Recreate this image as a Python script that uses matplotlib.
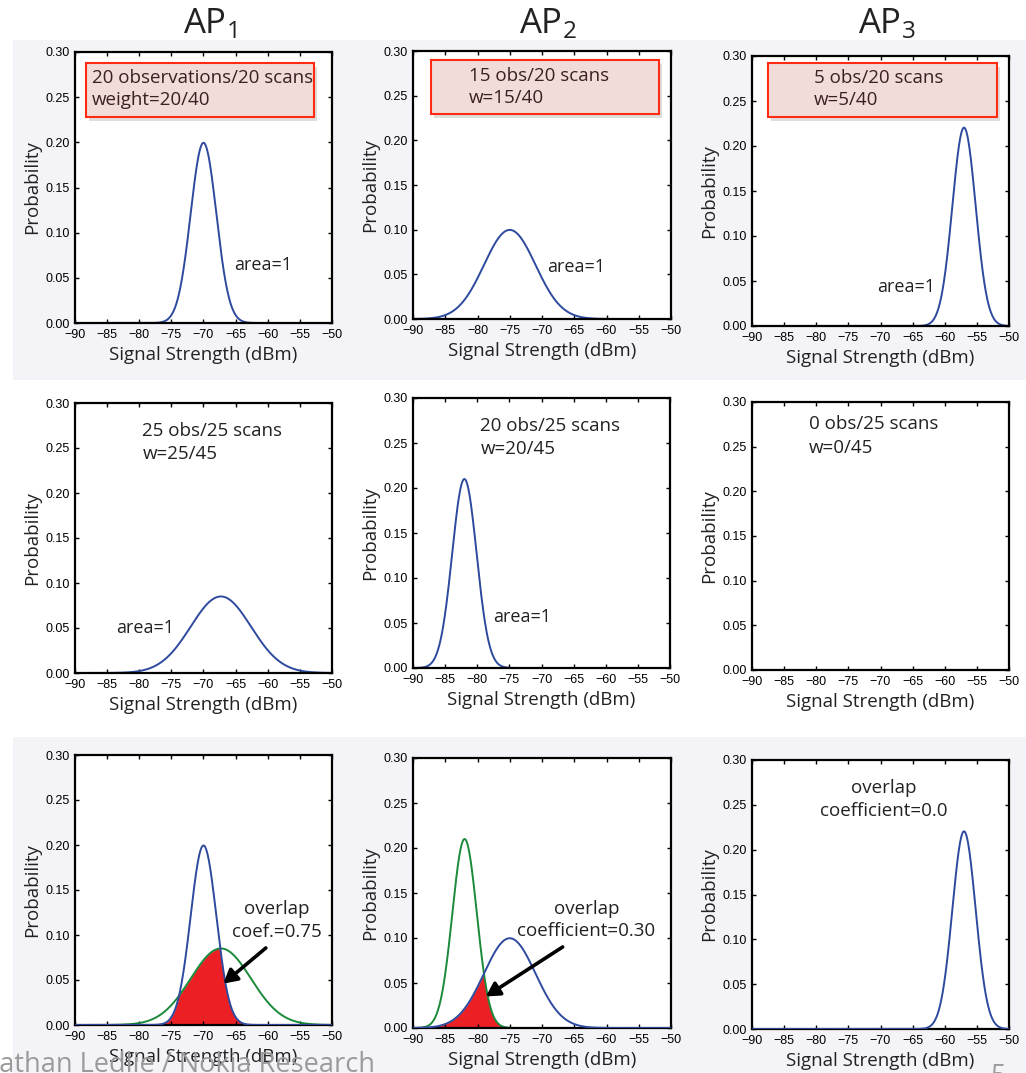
import matplotlib
matplotlib.use('Agg')
import matplotlib.pyplot as plt
from matplotlib.patches import Rectangle
import numpy as np

plt.rcParams['font.family'] = ['Open Sans', 'DejaVu Sans']
plt.rcParams['mathtext.fontset'] = 'custom'
plt.rcParams['mathtext.rm'] = 'Open Sans'
plt.rcParams['mathtext.it'] = 'Open Sans'

# Gaussian parameters (mean dBm, std dBm)
ap_names = ['1', '2', '3']
scan1_means = [-70.0, -75.0, -57.0]
scan1_stds = [2.0, 4.0, 1.81]
scan2_means = [-67.3, -82.0, None]
scan2_stds = [4.69, 1.9, None]

scan1_text = ['20 observations/20 scans\nweight=20/40', '15 obs/20 scans\nw=15/40', '5 obs/20 scans\nw=5/40']
scan2_text = ['25 obs/25 scans\nw=25/45', '20 obs/25 scans\nw=20/45', '0 obs/25 scans\nw=0/45']
overlap_text = ['overlap\ncoef.=0.75', 'overlap\ncoefficient=0.30', 'overlap\ncoefficient=0.0']

x_ticks = [-90, -85, -80, -75, -70, -65, -60, -55, -50]
y_ticks = [0.0, 0.05, 0.10, 0.15, 0.20, 0.25, 0.30]

BLUE = '#2E4A9E'
GREEN = '#1B8A3A'
RED = '#EC2024'
TXT = '#222222'
W, H = 1026, 1073

fig = plt.figure(figsize=(W / 100, H / 100), dpi=100)
fig.patch.set_facecolor('white')


def fig_rect(l, t, r, b):
    return [l / W, 1 - b / H, (r - l) / W, (b - t) / H]


def fx(px):
    return px / W


def fy(py):
    return 1 - py / H


# grey slide bands behind the top and bottom rows
for (l, t, r, b) in [(13, 40, 1026, 380), (13, 737, 1026, 1073)]:
    fig.add_artist(Rectangle((fx(l), fy(b)), (r - l) / W, (b - t) / H,
                             transform=fig.transFigure, facecolor='#F4F4F8',
                             edgecolor='none', zorder=-10))

# axes boxes in pixels (left, top, right, bottom)
boxes = [
    [(75, 52, 332, 323), (413, 51, 671, 319), (752, 56, 1009, 326)],
    [(75, 403, 332, 673), (413, 398, 670, 668), (752, 402, 1009, 670)],
    [(75, 755, 332, 1025), (413, 758, 671, 1028), (752, 760, 1009, 1029)],
]

xs = np.linspace(-90, -50, 600)


def gauss(m, s):
    return np.exp(-0.5 * ((xs - m) / s) ** 2) / (s * np.sqrt(2 * np.pi))


def style(ax):
    ax.set_xlim(-90, -50)
    ax.set_ylim(0, 0.30)
    ax.set_xticks(x_ticks)
    ax.set_yticks(y_ticks)
    ax.set_xticklabels([f'\u2212{abs(v)}' for v in x_ticks], family='Liberation Sans', fontsize=9)
    ax.set_yticklabels([f'{v:.2f}' for v in y_ticks], family='Liberation Sans', fontsize=9)
    ax.tick_params(direction='in', top=True, right=True, length=3, width=1, pad=4)
    for sp in ax.spines.values():
        sp.set_linewidth(1.6)
    ax.set_xlabel('Signal Strength (dBm)', fontsize=13.5, color=TXT, labelpad=4)
    ax.set_ylabel('Probability', fontsize=13.5, color=TXT, labelpad=3)


axes = [[fig.add_axes(fig_rect(*boxes[r][c])) for c in range(3)] for r in range(3)]
for row in axes:
    for ax in row:
        style(ax)

# AP titles
for c, name in enumerate(ap_names):
    l, t, r, b = boxes[0][c]
    fig.text(fx((l + r) / 2 + 6), fy(24), r'$\mathrm{AP}_{' + name + '}$',
             ha='center', va='center', fontsize=25, color=TXT)

# row 1: first scan
area_pos1 = [(-65.3, 0.064), (-69.2, 0.058), (-70.5, 0.043)]
for c in range(3):
    ax = axes[0][c]
    ax.plot(xs, gauss(scan1_means[c], scan1_stds[c]), color=BLUE, lw=1.4)
    ax.text(*area_pos1[c], 'area=1', fontsize=13, va='center', ha='left', color=TXT)

# red boxes with shadow over the top row
rbox = [(86, 63, 314, 117), (431, 60, 659, 114), (768, 63, 997, 117)]
rtext = [(92, 89), (469, 87), (814, 89)]
for (l, t, r, b), (tx, ty), s in zip(rbox, rtext, scan1_text):
    fig.add_artist(Rectangle((fx(l + 3), fy(b + 4)), (r - l) / W, (b - t) / H,
                             transform=fig.transFigure, facecolor='#00000022',
                             edgecolor='none', zorder=4))
    fig.add_artist(Rectangle((fx(l), fy(b)), (r - l) / W, (b - t) / H,
                             transform=fig.transFigure, facecolor='#F2DCD9',
                             edgecolor='#FF2A12', lw=1.5, zorder=5))
    fig.text(fx(tx), fy(ty), s, ha='left', va='center', fontsize=13.5,
             color='#3A2020', linespacing=1.35, zorder=6)

# row 2: second scan
text_pos2 = [(-79.5, 0.256), (-79.5, 0.256), (-81.2, 0.262)]
area_pos2 = [(-83.6, 0.05), (-77.6, 0.057), None]
for c in range(3):
    ax = axes[1][c]
    if scan2_means[c] is not None:
        ax.plot(xs, gauss(scan2_means[c], scan2_stds[c]), color=BLUE, lw=1.4)
    ax.text(*text_pos2[c], scan2_text[c], fontsize=13.5, va='center', ha='left',
            color=TXT, linespacing=1.4)
    if area_pos2[c] is not None:
        ax.text(*area_pos2[c], 'area=1', fontsize=13, va='center', ha='left', color=TXT)

# row 3: overlap
ov_pos = [(-58.6, 0.116), (-63.1, 0.120), (-69.5, 0.256)]
arrows = [((-60.3, 0.0856), (-66.9, 0.046)), ((-66.8, 0.090), (-78.7, 0.035)), None]
for c in range(3):
    ax = axes[2][c]
    b1 = gauss(scan1_means[c], scan1_stds[c])
    if scan2_means[c] is not None:
        b2 = gauss(scan2_means[c], scan2_stds[c])
        ax.fill_between(xs, 0, np.minimum(b1, b2), color=RED, lw=0, zorder=1)
        ax.plot(xs, b2, color=GREEN, lw=1.4, zorder=2)
    ax.plot(xs, b1, color=BLUE, lw=1.4, zorder=3)
    ax.text(*ov_pos[c], overlap_text[c], fontsize=13.5, va='center', ha='center',
            color=TXT, linespacing=1.35)
    if arrows[c] is not None:
        start, end = arrows[c]
        ax.annotate('', xy=end, xytext=start,
                    arrowprops=dict(arrowstyle='-|>,head_length=0.8,head_width=0.45',
                                    color='black', lw=2.6, shrinkA=0, shrinkB=0),
                    zorder=5)

# slide footer
fig.text(fx(375), fy(1071), 'Jonathan Ledlie / Nokia Research', ha='right',
         va='baseline', fontsize=19.5, color='#9A9A9A')
fig.text(fx(990), fy(1084), '5', ha='left', va='baseline', fontsize=19.5, color='#9A9A9A')

fig.savefig('out.png', dpi=100)
